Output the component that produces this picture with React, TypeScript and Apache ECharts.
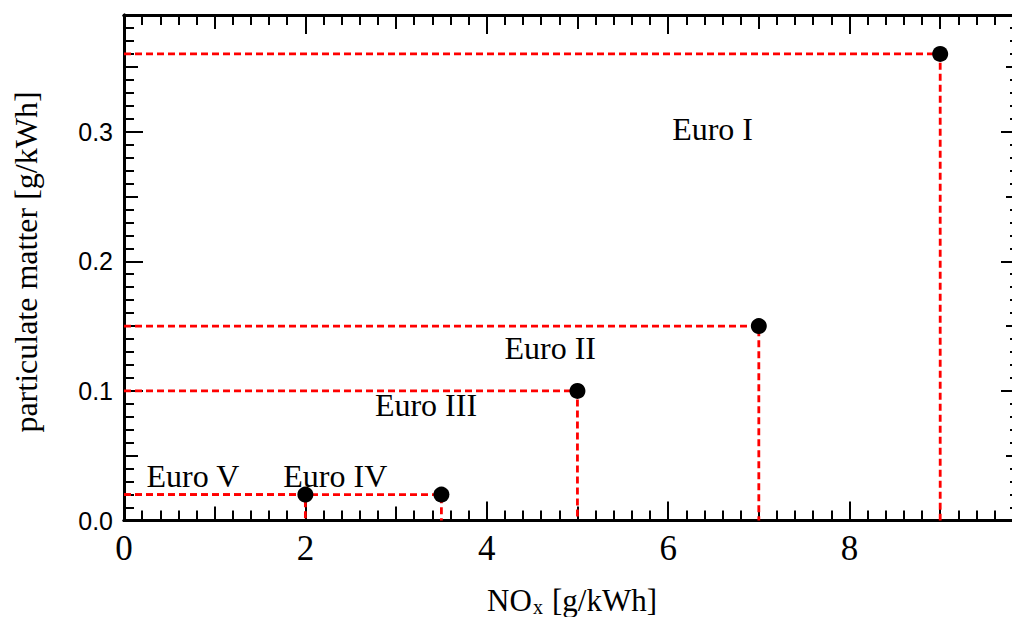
import React, { useEffect, useRef } from "react";
import * as echarts from "echarts";

// Euro emission standards for heavy-duty diesel engines
const standards = ["Euro I", "Euro II", "Euro III", "Euro IV", "Euro V"];
const noxLimits = [9, 7, 5, 3.5, 2]; // g/kWh
const pmLimits = [0.36, 0.15, 0.1, 0.02, 0.02]; // g/kWh
// annotation anchor points (data coordinates) for the standard names
const labelNox = [6.49, 4.7, 3.33, 2.33, 0.76];
const labelPm = [0.302, 0.133, 0.089, 0.034, 0.034];
const xTickLabels = [0, 2, 4, 6, 8];
const yTickLabels = [0, 0.1, 0.2, 0.3];
const X_MAX = 9.88;
const Y_MAX = 0.39;

const SERIF = "Liberation Serif";
const SANS = "Liberation Sans";

function makeX(position: string, interval: number, tickLen: number, withMinor: boolean) {
  return {
    type: "value",
    position,
    min: 0,
    max: X_MAX,
    interval,
    axisLine: { show: true, onZero: false, lineStyle: { color: "#000", width: 3 } },
    axisTick: { show: true, inside: true, length: tickLen, lineStyle: { color: "#000", width: 2 } },
    minorTick: { show: withMinor, splitNumber: 10, length: 10, lineStyle: { color: "#000", width: 2 } },
    axisLabel: { show: false },
    splitLine: { show: false },
    minorSplitLine: { show: false },
  };
}

function makeY(position: string, interval: number, tickLen: number, withLabels: boolean, withMinor: boolean) {
  return {
    type: "value",
    position,
    min: 0,
    max: Y_MAX,
    interval,
    axisLine: { show: true, onZero: false, lineStyle: { color: "#000", width: 3 } },
    axisTick: { show: true, inside: true, length: tickLen, lineStyle: { color: "#000", width: 2 } },
    minorTick: { show: withMinor, splitNumber: 10, length: 10, lineStyle: { color: "#000", width: 2 } },
    axisLabel: {
      show: withLabels,
      margin: 11,
      fontFamily: SANS,
      fontSize: 25,
      color: "#000",
      showMaxLabel: false,
      formatter: (v: number) =>
        yTickLabels.some((t) => Math.abs(t - v) < 1e-9) ? `{s|${v.toFixed(1)}}` : "",
      rich: { s: { fontFamily: SANS, fontSize: 25, color: "#000" } },
    },
    splitLine: { show: false },
    minorSplitLine: { show: false },
  };
}

export default function App() {
  const ref = useRef<HTMLDivElement>(null);

  useEffect(() => {
    if (!ref.current) return;
    const chart = echarts.init(ref.current, undefined, { renderer: "svg" });

    const guideSeries = standards.map((name, i) => ({
      name,
      type: "line",
      xAxisIndex: 0,
      yAxisIndex: 0,
      data: [
        [0, pmLimits[i]],
        [noxLimits[i], pmLimits[i]],
        [noxLimits[i], 0],
      ],
      symbol: "none",
      lineStyle: { color: "#ff0000", width: 2.8, type: [7, 4], opacity: 1 },
      z: 3,
      silent: true,
    }));

    chart.setOption({
      animation: false,
      backgroundColor: "#fff",
      grid: { left: 124, right: 10, top: 15, bottom: 96.5, containLabel: false },
      xAxis: [
        makeX("bottom", 2, 19, true),
        makeX("bottom", 1, 14, false),
        makeX("top", 2, 19, true),
        makeX("top", 1, 14, false),
      ],
      yAxis: [
        makeY("left", 0.1, 19, true, true),
        makeY("left", 0.05, 14, false, false),
        makeY("right", 0.1, 19, false, true),
        makeY("right", 0.05, 14, false, false),
      ],
      series: [
        ...guideSeries,
        {
          name: "limits",
          type: "scatter",
          xAxisIndex: 0,
          yAxisIndex: 0,
          data: standards.map((_, i) => [noxLimits[i], pmLimits[i]]),
          symbol: "circle",
          symbolSize: 16,
          itemStyle: { color: "#000", opacity: 1 },
          z: 5,
          silent: true,
        },
        {
          name: "labels",
          type: "scatter",
          xAxisIndex: 0,
          yAxisIndex: 0,
          data: standards.map((n, i) => ({ name: n, value: [labelNox[i], labelPm[i]] })),
          symbolSize: 1,
          itemStyle: { color: "#fff", opacity: 0 },
          label: {
            show: true,
            position: "inside",
            formatter: (p: any) => p.name,
            fontFamily: SERIF,
            fontSize: 32,
            color: "#000",
            opacity: 1,
          },
          z: 6,
          silent: true,
        },
        {
          name: "x tick labels",
          type: "scatter",
          xAxisIndex: 0,
          yAxisIndex: 0,
          data: xTickLabels.map((v) => ({ name: String(v), value: [v, 0] })),
          symbolSize: 1,
          itemStyle: { color: "#fff", opacity: 0 },
          label: {
            show: true,
            position: "bottom",
            distance: 10,
            formatter: (p: any) => p.name,
            fontFamily: SERIF,
            fontSize: 35,
            color: "#000",
            opacity: 1,
          },
          clip: false,
          z: 6,
          silent: true,
        },
      ],
      graphic: [
        {
          type: "text",
          x: 26,
          y: 262,
          rotation: Math.PI / 2,
          style: {
            text: "particulate matter [g/kWh]",
            fontFamily: SERIF,
            fontSize: 32,
            fill: "#000",
            align: "center",
            verticalAlign: "middle",
          },
        },
        {
          type: "text",
          x: 487,
          y: 600,
          style: {
            text: "NO",
            fontFamily: SERIF,
            fontSize: 31,
            fill: "#000",
            align: "left",
            verticalAlign: "middle",
          },
        },
        {
          type: "text",
          x: 533,
          y: 607,
          style: {
            text: "x",
            fontFamily: SERIF,
            fontSize: 20,
            fill: "#000",
            align: "left",
            verticalAlign: "middle",
          },
        },
        {
          type: "text",
          x: 552,
          y: 600,
          style: {
            text: "[g/kWh]",
            fontFamily: SERIF,
            fontSize: 31,
            fill: "#000",
            align: "left",
            verticalAlign: "middle",
          },
        },
      ],
    });

    return () => chart.dispose();
  }, []);

  return (
    <div
      ref={ref}
      style={{ position: "fixed", left: 0, top: 0, width: 1030, height: 617, background: "#fff" }}
    />
  );
}
